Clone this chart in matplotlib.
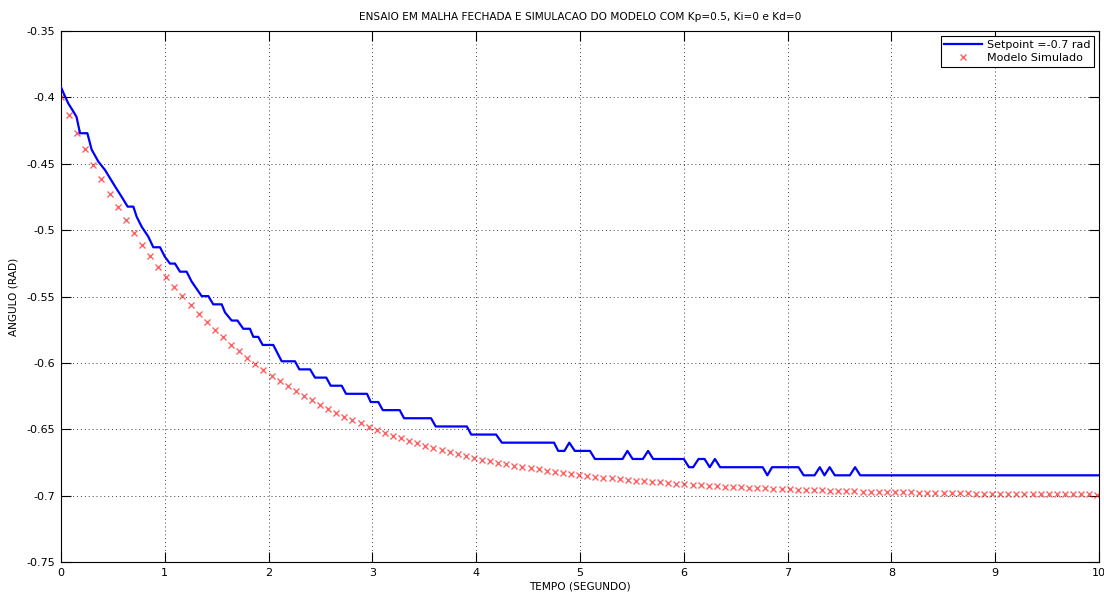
import numpy as np
import matplotlib
matplotlib.use("Agg")
import matplotlib.pyplot as plt

# ---------------- data ----------------
title_text = "ENSAIO EM MALHA FECHADA E SIMULACAO DO MODELO COM Kp=0.5, Ki=0 e Kd=0"
xlabel_text = "TEMPO (SEGUNDO)"
ylabel_text = "ANGULO (RAD)"
legend_labels = ["Setpoint =-0.7 rad", "Modelo Simulado"]

x_ticks = [0, 1, 2, 3, 4, 5, 6, 7, 8, 9, 10]
x_tick_labels = ["0", "1", "2", "3", "4", "5", "6", "7", "8", "9", "10"]
y_ticks = [-0.75, -0.7, -0.65, -0.6, -0.55, -0.5, -0.45, -0.4, -0.35]
y_tick_labels = ["-0.75", "-0.7", "-0.65", "-0.6", "-0.55", "-0.5", "-0.45", "-0.4", "-0.35"]

# measured closed-loop response (breakpoints of the quantized trace)
setpoint_t = [
    0.000, 0.040, 0.070, 0.120, 0.150, 0.183, 0.254, 0.295, 0.360, 0.424,
    0.520, 0.585, 0.642, 0.697, 0.729, 0.777, 0.841, 0.889, 0.954, 1.000,
    1.050, 1.098, 1.146, 1.210, 1.259, 1.355, 1.419, 1.467, 1.548, 1.580,
    1.644, 1.700, 1.756, 1.820, 1.853, 1.900, 1.943, 2.045, 2.126, 2.254,
    2.296, 2.400, 2.447, 2.556, 2.598, 2.704, 2.746, 2.948, 2.984, 3.057,
    3.100, 3.263, 3.305, 3.565, 3.610, 3.910, 3.952, 4.192, 4.247, 4.750,
    4.790, 4.850, 4.897, 4.950, 5.096, 5.144, 5.410, 5.457, 5.507, 5.606,
    5.656, 5.705, 6.000, 6.050, 6.090, 6.142, 6.200, 6.250, 6.300, 6.350,
    6.760, 6.805, 6.850, 7.105, 7.155, 7.260, 7.310, 7.355, 7.405, 7.455,
    7.600, 7.650, 7.700, 10.000,
]
setpoint_angle = [
    -0.3924, -0.3995, -0.4045, -0.4108, -0.4148, -0.4270, -0.4270, -0.4393, -0.4484, -0.4547,
    -0.4670, -0.4750, -0.4823, -0.4823, -0.4899, -0.4974, -0.5049, -0.5129, -0.5129, -0.5200,
    -0.5252, -0.5252, -0.5313, -0.5313, -0.5388, -0.5497, -0.5497, -0.5559, -0.5559, -0.5620,
    -0.5681, -0.5681, -0.5743, -0.5743, -0.5804, -0.5804, -0.5865, -0.5865, -0.5988, -0.5988,
    -0.6049, -0.6049, -0.6111, -0.6111, -0.6172, -0.6172, -0.6233, -0.6233, -0.6295, -0.6295,
    -0.6356, -0.6356, -0.6417, -0.6417, -0.6479, -0.6479, -0.6540, -0.6540, -0.6601, -0.6601,
    -0.6663, -0.6663, -0.6601, -0.6663, -0.6663, -0.6724, -0.6724, -0.6663, -0.6724, -0.6724,
    -0.6663, -0.6724, -0.6724, -0.6786, -0.6786, -0.6724, -0.6724, -0.6786, -0.6724, -0.6786,
    -0.6786, -0.6847, -0.6786, -0.6786, -0.6847, -0.6847, -0.6786, -0.6847, -0.6786, -0.6847,
    -0.6847, -0.6786, -0.6847, -0.6847,
]

# simulated model response, one sample every sim_dt seconds
sim_dt = 0.078
sim_angle = [
    -0.4000, -0.4135, -0.4265, -0.4388, -0.4506, -0.4618, -0.4726, -0.4828, -0.4926, -0.5020,
    -0.5109, -0.5194, -0.5276, -0.5354, -0.5428, -0.5499, -0.5566, -0.5631, -0.5693, -0.5752,
    -0.5808, -0.5862, -0.5913, -0.5962, -0.6009, -0.6054, -0.6096, -0.6137, -0.6176, -0.6213,
    -0.6249, -0.6283, -0.6315, -0.6346, -0.6375, -0.6404, -0.6430, -0.6456, -0.6481, -0.6504,
    -0.6526, -0.6548, -0.6568, -0.6588, -0.6606, -0.6624, -0.6641, -0.6657, -0.6673, -0.6687,
    -0.6702, -0.6715, -0.6728, -0.6740, -0.6752, -0.6763, -0.6774, -0.6784, -0.6794, -0.6803,
    -0.6812, -0.6820, -0.6828, -0.6836, -0.6844, -0.6851, -0.6857, -0.6864, -0.6870, -0.6876,
    -0.6881, -0.6887, -0.6892, -0.6897, -0.6901, -0.6906, -0.6910, -0.6914, -0.6918, -0.6922,
    -0.6925, -0.6929, -0.6932, -0.6935, -0.6938, -0.6941, -0.6943, -0.6946, -0.6948, -0.6951,
    -0.6953, -0.6955, -0.6957, -0.6959, -0.6961, -0.6963, -0.6964, -0.6966, -0.6967, -0.6969,
    -0.6970, -0.6972, -0.6973, -0.6974, -0.6975, -0.6976, -0.6977, -0.6978, -0.6979, -0.6980,
    -0.6981, -0.6982, -0.6983, -0.6984, -0.6984, -0.6985, -0.6986, -0.6986, -0.6987, -0.6988,
    -0.6988, -0.6989, -0.6989, -0.6990, -0.6990, -0.6991, -0.6991, -0.6991, -0.6992,
]
sim_t = np.arange(len(sim_angle)) * sim_dt

# ---------------- figure ----------------
plt.rcParams["font.family"] = ["DejaVu Sans"]
W, H = 1104, 596
fig = plt.figure(figsize=(W / 100, H / 100), dpi=100)
ax = fig.add_axes([61 / W, 34 / H, 1038 / W, 531 / H])

ax.plot(setpoint_t, setpoint_angle, color="#0000ff", linewidth=1.6,
        label=legend_labels[0], zorder=3)
ax.plot(sim_t, sim_angle, linestyle="none", marker="x", color="#ff2020",
        alpha=0.7, markersize=4.2, markeredgewidth=1.0,
        label=legend_labels[1], zorder=2)

ax.set_xlim(0, 10)
ax.set_ylim(-0.75, -0.35)
ax.set_xticks(x_ticks)
ax.set_xticklabels(x_tick_labels)
ax.set_yticks(y_ticks)
ax.set_yticklabels(y_tick_labels)

ax.grid(True, color="#404040", linestyle=(0, (1, 3)), linewidth=0.7)
ax.tick_params(direction="in", length=7.5, width=0.8, top=True, right=True,
               labelsize=8, pad=4, colors="black")
for s in ax.spines.values():
    s.set_linewidth(0.8)
    s.set_color("black")

ax.set_title(title_text, fontsize=7.6, pad=8)
ax.set_xlabel(xlabel_text, fontsize=7.6, labelpad=3)
ax.set_ylabel(ylabel_text, fontsize=7.6, labelpad=6)

leg = ax.legend(loc="upper right", fontsize=8, frameon=True, fancybox=False,
                framealpha=1, edgecolor="black", borderaxespad=0.45,
                handlelength=3.4, handletextpad=0.4, borderpad=0.35,
                labelspacing=0.25)
leg.get_frame().set_linewidth(0.8)

fig.savefig("out.png", dpi=100)
